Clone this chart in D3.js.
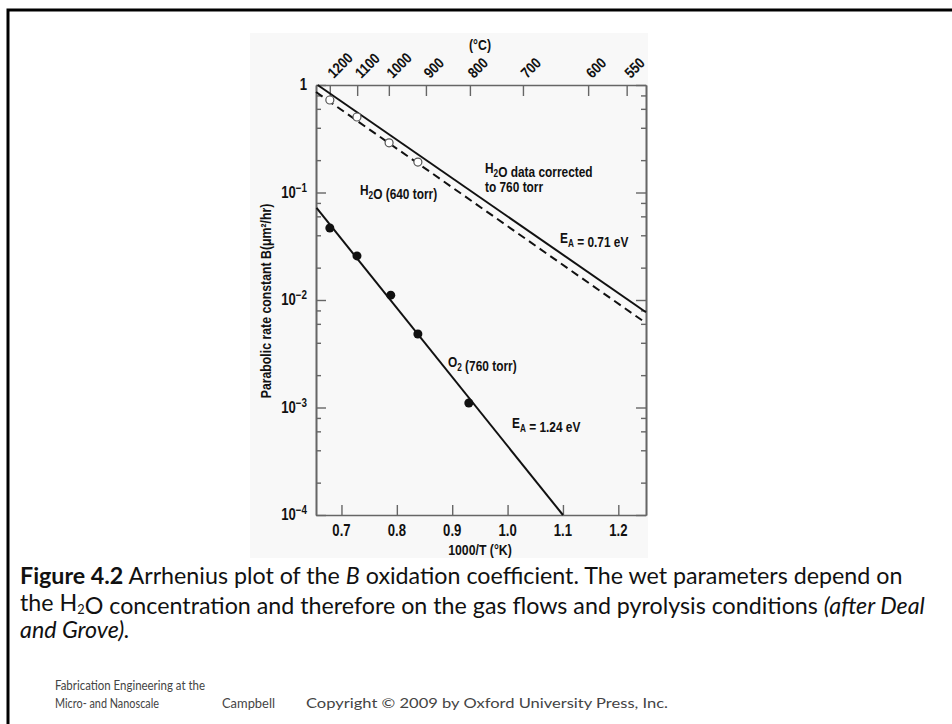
<!DOCTYPE html>
<html>
<head>
<meta charset="utf-8">
<script src="https://cdn.jsdelivr.net/npm/d3@7"></script>
<style>
  body { margin: 0; background: #fff; }
  .lab { font-family: "Liberation Sans", Arial, sans-serif; font-weight: bold; fill: #111; }
  .cap { font-family: Lato, "Open Sans", sans-serif; fill: #111; }
  .foot { font-family: Lato, "Open Sans", sans-serif; fill: #444; }
</style>
</head>
<body>
<script>
// ---- data ----
var xTicks = [0.7, 0.8, 0.9, 1.0, 1.1, 1.2];
var tempTicksC = [1200, 1100, 1000, 900, 800, 700, 600, 550];
var yMajor = [1, 1e-1, 1e-2, 1e-3, 1e-4];
var yMajorExp = [0, -1, -2, -3, -4];
var yMinorMant = [2, 4, 6, 8];

// H2O (640 torr) measured points, open circles
var h2oX = [0.679, 0.728, 0.786, 0.838];
var h2oB = [0.725, 0.504, 0.29, 0.192];
// O2 (760 torr) measured points, filled circles
var o2X = [0.679, 0.728, 0.789, 0.838, 0.930];
var o2B = [0.0468, 0.0257, 0.0111, 0.00483, 0.0011];

// fitted lines (end points)
var wet760 = [[0.657, 1.0], [1.25, 0.0077]];
var wet640 = [[0.654, 0.86], [1.25, 0.0061]];
var dry760 = [[0.655, 0.0718], [1.1, 0.0001]];

var width = 952, height = 724;
var mLeft = 316, mRight = 646, mTop = 85, mBottom = 515;
var squeeze = 0.82;   // condensed look for the figure lettering

var svg = d3.select("body").append("svg")
    .attr("width", width)
    .attr("height", height);

// slide frame
svg.append("rect")
    .attr("x", 8).attr("y", 10)
    .attr("width", 1000).attr("height", 800)
    .attr("fill", "none").attr("stroke", "#000").attr("stroke-width", 3);

// faint scanned panel
svg.append("rect")
    .attr("x", 250).attr("y", 33)
    .attr("width", 398).attr("height", 525)
    .attr("fill", "#f8f8f8");

var x = d3.scaleLinear().domain([0.654, 1.25]).range([mLeft, mRight]);
var y = d3.scaleLog().domain([1e-4, 1]).range([mBottom, mTop]);

var axisColor = "#666";

// minor y values
var yMinor = [];
yMajorExp.slice(1).forEach(function(e) {
    yMinorMant.forEach(function(m) { yMinor.push(m * Math.pow(10, e)); });
});

function styleAxis(g) {
    g.selectAll("path").attr("stroke", axisColor).attr("stroke-width", 1.6);
    g.selectAll("line").attr("stroke", axisColor).attr("stroke-width", 1.4);
    g.selectAll("text").remove();
}

// left axis
svg.append("g").attr("transform", "translate(" + mLeft + ",0)")
    .call(d3.axisLeft(y).tickValues(yMajor).tickSize(-10).tickSizeOuter(0))
    .call(styleAxis);
svg.append("g").attr("transform", "translate(" + mLeft + ",0)")
    .call(d3.axisLeft(y).tickValues(yMinor).tickSize(-5).tickSizeOuter(0))
    .call(styleAxis);
// right axis
svg.append("g").attr("transform", "translate(" + mRight + ",0)")
    .call(d3.axisRight(y).tickValues(yMajor).tickSize(-10).tickSizeOuter(0))
    .call(styleAxis);
svg.append("g").attr("transform", "translate(" + mRight + ",0)")
    .call(d3.axisRight(y).tickValues(yMinor).tickSize(-5).tickSizeOuter(0))
    .call(styleAxis);
// bottom axis
svg.append("g").attr("transform", "translate(0," + mBottom + ")")
    .call(d3.axisBottom(x).tickValues(xTicks).tickSize(-10).tickSizeOuter(0))
    .call(styleAxis);
// top axis, temperature in C
svg.append("g").attr("transform", "translate(0," + mTop + ")")
    .call(d3.axisTop(x).tickValues(tempTicksC.map(function(c) { return 1000 / (c + 273); }))
        .tickSize(-11).tickSizeOuter(0))
    .call(styleAxis);

// label helper: bold narrow text placed at (xp, yp)
function lab(xp, yp, size, anchor, rot, sq) {
    return svg.append("text").attr("class", "lab")
        .attr("transform", "translate(" + xp + "," + yp + ")" + (rot ? " rotate(" + rot + ")" : "") + " scale(" + (sq || squeeze) + ",1)")
        .attr("text-anchor", anchor || "start")
        .style("font-size", size + "px");
}

// y tick labels
yMajor.forEach(function(v, i) {
    var t = lab(mLeft - 9, y(v) + 5, 16, "end");
    if (yMajorExp[i] === 0) {
        t.text("1");
    } else {
        t.append("tspan").text("10");
        t.append("tspan").attr("dy", -6).style("font-size", "12px").text("\u2212" + (-yMajorExp[i]));
    }
});

// x tick labels
xTicks.forEach(function(d) {
    lab(x(d), mBottom + 21, 16, "middle").text(d3.format(".1f")(d));
});

// top temp labels, rotated
tempTicksC.forEach(function(d) {
    lab(x(1000 / (d + 273)) + 4, mTop - 6, 15, "start", -45, 0.85).text(d);
});

lab(480, 50, 15, "middle").text("(\u00b0C)");
lab(480, 555, 15, "middle").text("1000/T (\u00b0K)");

svg.append("text").attr("class", "lab")
    .attr("transform", "translate(271,301) rotate(-90) scale(" + squeeze + ",1)")
    .attr("text-anchor", "middle")
    .style("font-size", "15px")
    .text("Parabolic rate constant B(\u03bcm\u00b2/hr)");

// lines
var line = d3.line()
    .x(function(d) { return x(d[0]); })
    .y(function(d) { return y(d[1]); });

svg.append("path").attr("d", line(wet760))
    .attr("fill", "none").attr("stroke", "#111").attr("stroke-width", 2);
svg.append("path").attr("d", line(wet640))
    .attr("fill", "none").attr("stroke", "#111").attr("stroke-width", 2)
    .attr("stroke-dasharray", "8,5");
svg.append("path").attr("d", line(dry760))
    .attr("fill", "none").attr("stroke", "#111").attr("stroke-width", 2);

// points
svg.selectAll(".h2o").data(h2oX).enter().append("circle")
    .attr("cx", function(d) { return x(d); })
    .attr("cy", function(d, i) { return y(h2oB[i]); })
    .attr("r", 4)
    .attr("fill", "#fff").attr("stroke", "#555").attr("stroke-width", 1.2);
svg.selectAll(".o2").data(o2X).enter().append("circle")
    .attr("cx", function(d) { return x(d); })
    .attr("cy", function(d, i) { return y(o2B[i]); })
    .attr("r", 4.5)
    .attr("fill", "#111");

// annotations
function chem(xp, yp, parts) {
    var t = lab(xp, yp, 14.5, "start");
    parts.forEach(function(p) {
        if (p.sub) {
            t.append("tspan").attr("dy", 4).style("font-size", "10px").text(p.sub);
            t.append("tspan").attr("dy", -4).text("");
        } else {
            t.append("tspan").text(p.t);
        }
    });
    return t;
}
chem(485, 173, [{t: "H"}, {sub: "2"}, {t: "O data corrected"}]);
chem(485, 192, [{t: "to 760 torr"}]);
chem(360, 195, [{t: "H"}, {sub: "2"}, {t: "O (640 torr)"}]);
chem(560, 243, [{t: "E"}, {sub: "A"}, {t: " = 0.71 eV"}]);
chem(448, 367, [{t: "O"}, {sub: "2"}, {t: " (760 torr)"}]);
chem(512, 428, [{t: "E"}, {sub: "A"}, {t: " = 1.24 eV"}]);

// caption
var capLines = [
    [{t: "Figure 4.2", w: "bold"}, {t: " Arrhenius plot of the "}, {t: "B", s: "italic"}, {t: " oxidation coefficient. The wet parameters depend on"}],
    [{t: "the H"}, {sub: "2"}, {t: "O concentration and therefore on the gas flows and pyrolysis conditions "}, {t: "(after Deal", s: "italic"}],
    [{t: "and Grove).", s: "italic"}]
];
var capY = [584, 610.5, 638];
var capText = capLines.map(function(parts, i) {
    var t = svg.append("text").attr("class", "cap")
        .attr("x", 20).attr("y", capY[i]).style("font-size", "18px");
    parts.forEach(function(p) {
        if (p.sub) {
            t.append("tspan").attr("class", "sub").attr("dy", 3).style("font-size", "11px").text(p.sub);
            t.append("tspan").attr("dy", -3).text("");
        } else {
            t.append("tspan").style("font-weight", p.w || "normal")
                .style("font-style", p.s || "normal").text(p.t);
        }
    });
    return t;
});
// scale caption font so first line spans to the right as in the slide
var w0 = capText[0].node().getComputedTextLength();
var fs = 18 * 883 / w0;
capText.forEach(function(t) {
    t.style("font-size", fs + "px");
    t.selectAll("tspan.sub").style("font-size", (fs * 0.55) + "px");
});

// footer
svg.append("text").attr("class", "foot").attr("x", 55).attr("y", 690)
    .style("font-size", "13px").attr("textLength", 150).attr("lengthAdjust", "spacingAndGlyphs")
    .text("Fabrication Engineering at the");
svg.append("text").attr("class", "foot").attr("x", 55).attr("y", 708)
    .style("font-size", "13px").attr("textLength", 104).attr("lengthAdjust", "spacingAndGlyphs")
    .text("Micro- and Nanoscale");
svg.append("text").attr("class", "foot").attr("x", 222).attr("y", 708)
    .style("font-size", "13px").attr("textLength", 53).attr("lengthAdjust", "spacingAndGlyphs")
    .text("Campbell");
svg.append("text").attr("class", "foot").attr("x", 306).attr("y", 708)
    .style("font-size", "13px").attr("textLength", 362).attr("lengthAdjust", "spacingAndGlyphs")
    .text("Copyright \u00a9 2009 by Oxford University Press, Inc.");
</script>
</body>
</html>
